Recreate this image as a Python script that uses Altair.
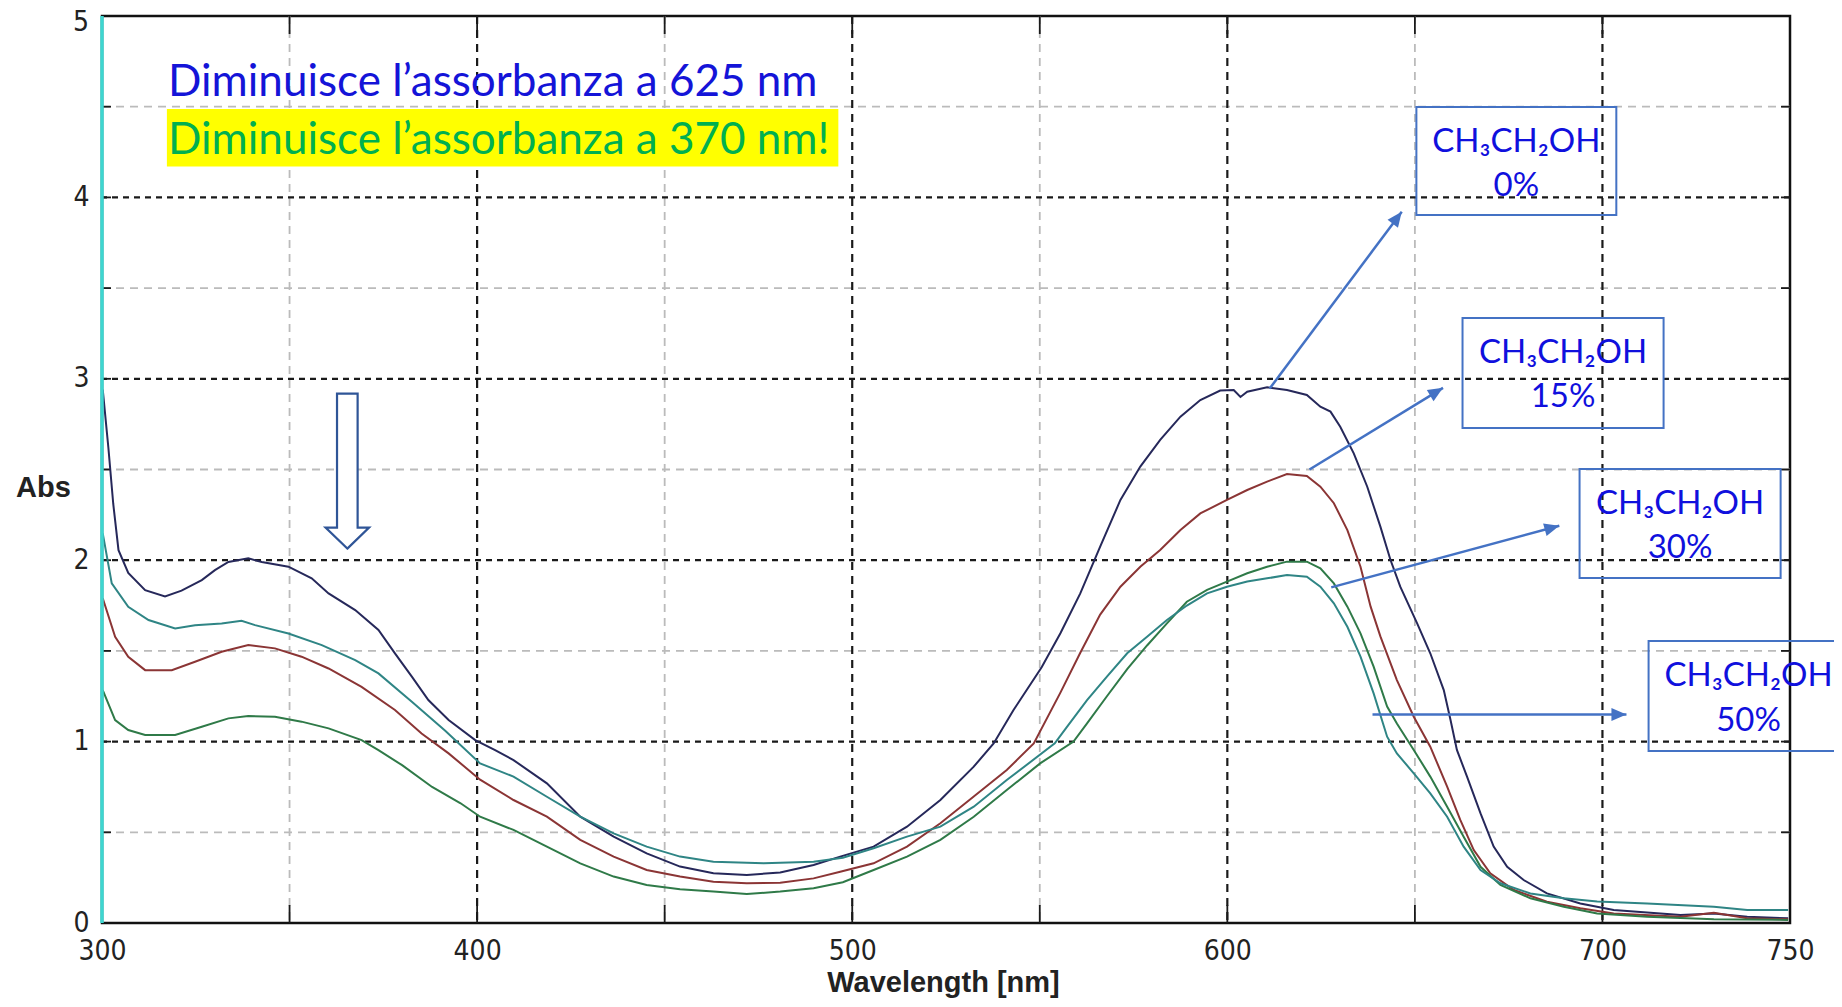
import altair as alt
import pandas as pd

# ---------------- data ----------------
wl_0 = [300.2, 301.7, 303.0, 304.4, 307.0, 311.5, 316.8, 321.2, 326.6, 330.1, 333.7, 339.0, 342.6, 349.7, 355.9,
        360.4, 367.5, 373.7, 378.1, 382.6, 387.0, 392.4, 399.5, 404.8, 409.7, 418.6, 427.5, 436.4, 445.2, 454.1,
        463.0, 471.9, 480.8, 489.7, 496.8, 505.7, 514.6, 523.5, 532.4, 537.7, 543.0, 550.5, 555.5, 560.8, 566.1,
        571.5, 576.8, 582.1, 587.5, 592.8, 598.1, 601.7, 603.5, 605.3, 610.6, 615.9, 621.2, 624.8, 627.5, 630.1,
        633.7, 637.3, 640.8, 643.5, 646.1, 650.6, 654.1, 657.7, 659.5, 661.2, 663.9, 667.5, 671.0, 674.6, 679.0,
        685.2, 694.1, 703.0, 720.8, 729.7, 738.6, 749.5]
abs_0 = [2.94, 2.62, 2.31, 2.055, 1.93, 1.835, 1.80, 1.832, 1.89, 1.945, 1.99, 2.01, 1.99, 1.964, 1.90,
         1.817, 1.725, 1.615, 1.486, 1.358, 1.229, 1.119, 1.008, 0.953, 0.898, 0.77, 0.586, 0.476, 0.384, 0.311,
         0.274, 0.265, 0.278, 0.32, 0.366, 0.421, 0.531, 0.678, 0.862, 0.99, 1.174, 1.41, 1.597, 1.817, 2.075,
         2.332, 2.516, 2.663, 2.791, 2.883, 2.935, 2.938, 2.900, 2.929, 2.953, 2.938, 2.911, 2.846, 2.819, 2.736,
         2.589, 2.405, 2.185, 2.001, 1.854, 1.652, 1.487, 1.284, 1.119, 0.954, 0.807, 0.604, 0.421, 0.31, 0.237,
         0.163, 0.108, 0.072, 0.044, 0.053, 0.035, 0.026]

wl_15 = [300.2, 303.5, 307.0, 311.5, 318.6, 324.8, 331.9, 339.0, 346.1, 353.2, 360.4, 369.2, 378.1, 385.2, 392.4,
         400.8, 409.7, 418.6, 427.5, 436.4, 445.2, 454.1, 463.0, 471.9, 480.8, 489.7, 496.8, 505.7, 514.6, 523.5,
         532.4, 541.2, 548.4, 555.5, 560.8, 566.1, 571.5, 576.8, 582.1, 587.5, 592.8, 599.9, 605.3, 610.6, 615.9,
         621.2, 624.8, 628.4, 632.0, 635.5, 638.2, 640.8, 645.2, 649.7, 654.1, 658.6, 662.1, 665.7, 670.1, 676.4,
         685.2, 694.1, 703.0, 720.8, 729.7, 738.6, 749.5]
abs_15 = [1.79, 1.578, 1.468, 1.394, 1.394, 1.44, 1.495, 1.532, 1.514, 1.468, 1.403, 1.302, 1.174, 1.045, 0.935,
          0.79, 0.678, 0.586, 0.458, 0.366, 0.292, 0.256, 0.228, 0.219, 0.222, 0.246, 0.283, 0.329, 0.421, 0.55,
          0.697, 0.843, 0.99, 1.27, 1.49, 1.70, 1.854, 1.964, 2.056, 2.166, 2.258, 2.332, 2.387, 2.433, 2.475,
          2.464, 2.405, 2.314, 2.166, 1.964, 1.744, 1.58, 1.339, 1.137, 0.972, 0.752, 0.568, 0.402, 0.274, 0.182,
          0.117, 0.081, 0.053, 0.035, 0.057, 0.026, 0.02]

wl_50 = [300.2, 302.6, 307.0, 312.4, 319.5, 324.8, 331.9, 337.2, 340.8, 349.7, 358.6, 367.5, 373.7, 382.6, 391.5,
         400.8, 409.7, 418.6, 427.5, 436.4, 445.2, 454.1, 463.0, 476.4, 489.7, 497.5, 505.7, 514.6, 523.5, 532.4,
         541.2, 554.0, 557.2, 562.6, 567.9, 573.3, 578.6, 583.9, 589.2, 594.6, 599.9, 605.3, 610.6, 615.9, 621.2,
         624.8, 628.4, 632.0, 635.5, 639.0, 642.6, 645.2, 649.7, 654.1, 658.6, 663.0, 667.5, 672.8, 680.8, 689.7,
         698.6, 711.9, 729.7, 738.6, 749.5]
abs_50 = [2.148, 1.872, 1.743, 1.67, 1.624, 1.642, 1.651, 1.666, 1.642, 1.596, 1.532, 1.449, 1.376, 1.22, 1.06,
          0.88, 0.807, 0.696, 0.586, 0.494, 0.421, 0.366, 0.338, 0.329, 0.338, 0.36, 0.412, 0.476, 0.531, 0.641,
          0.788, 0.99, 1.08, 1.229, 1.358, 1.487, 1.578, 1.67, 1.75, 1.817, 1.854, 1.882, 1.9, 1.918, 1.909,
          1.854, 1.762, 1.633, 1.468, 1.266, 1.027, 0.935, 0.825, 0.715, 0.586, 0.421, 0.292, 0.219, 0.163, 0.136,
          0.118, 0.108, 0.09, 0.072, 0.072]

wl_30 = [300.2, 303.5, 307.0, 311.5, 319.5, 326.6, 333.7, 339.0, 346.1, 353.2, 360.4, 369.2, 373.7, 380.0, 388.0,
         395.6, 400.8, 409.7, 418.6, 427.5, 436.4, 445.2, 454.1, 463.0, 471.9, 480.8, 489.7, 497.5, 505.7, 514.6,
         523.5, 532.4, 541.2, 550.1, 559.0, 562.6, 567.9, 573.3, 578.6, 583.9, 589.2, 594.6, 599.9, 605.3, 610.6,
         615.9, 621.2, 624.8, 628.4, 632.0, 635.5, 639.0, 642.6, 645.2, 649.7, 654.1, 658.6, 663.0, 667.5, 672.8,
         680.8, 689.7, 698.6, 711.9, 729.7, 749.5]
abs_30 = [1.284, 1.119, 1.064, 1.036, 1.036, 1.082, 1.128, 1.141, 1.137, 1.11, 1.073, 1.008, 0.953, 0.87, 0.75,
          0.66, 0.586, 0.513, 0.421, 0.329, 0.256, 0.21, 0.186, 0.173, 0.16, 0.173, 0.191, 0.225, 0.292, 0.366,
          0.458, 0.586, 0.733, 0.88, 1.0, 1.10, 1.25, 1.40, 1.53, 1.652, 1.771, 1.836, 1.882, 1.928, 1.964,
          1.992, 1.992, 1.955, 1.872, 1.744, 1.597, 1.413, 1.193, 1.10, 0.954, 0.807, 0.641, 0.476, 0.31, 0.21,
          0.136, 0.09, 0.053, 0.035, 0.02, 0.017]

series_names = ["0%", "15%", "30%", "50%"]
series_colors = ["#26285A", "#8B3535", "#2F7A48", "#2F8585"]

x_tick_labels = [300, 400, 500, 600, 700, 750]
y_tick_labels = [0, 1, 2, 3, 4]
y_top_label = ["5"]
major_x = [400, 500, 600, 700]
minor_x = [350, 450, 550, 650]
major_y = [1, 2, 3, 4]
minor_y = [0.5, 1.5, 2.5, 3.5, 4.5]
tick_x = [350, 400, 450, 500, 550, 600, 650, 700]
tick_y = [0.5, 1, 1.5, 2, 2.5, 3, 3.5, 4, 4.5]

line_texts = ["Diminuisce l\u2019assorbanza a 625 nm", "Diminuisce l\u2019assorbanza a 370 nm!"]
line_x = [317.6, 317.6]
line_y = [4.561, 4.239]
highlight = {"x": [317.3], "x2": [496.3], "y": [4.487], "y2": [4.17]}

box_pct = ["0%", "15%", "30%", "50%"]
box_x = [650.4, 662.7, 693.9, 712.3]
box_x2 = [703.7, 716.3, 747.5, 765.6]
box_y = [4.498, 3.335, 2.503, 1.555]
box_y2 = [3.903, 2.729, 1.902, 0.948]
box_base1 = [4.252, 3.089, 2.256, 1.308]
box_base2 = [4.005, 2.842, 2.010, 1.061]

arr_x = [611.3, 621.9, 627.7, 638.7]
arr_y = [2.947, 2.50, 1.85, 1.15]
arr_x2 = [646.5, 657.5, 688.5, 706.4]
arr_y2 = [3.921, 2.95, 2.19, 1.15]
arr_angle = [36.8, 58.9, 74.4, 90.0]

down_arrow_tip = {"x": [365.4], "y": [2.064]}

# ---------------- build ----------------
W, H = 1688, 907
TICK_FONT = "Liberation Sans Narrow, DejaVu Sans Condensed, Liberation Sans"
LBL_FONT = "Liberation Sans"
TXT_FONT = "Lato"
BLUE_TXT = "#1010DD"
BOX_BLUE = "#4472C4"
INK = "#222222"

rows = []
for name, wl, ab in zip(series_names, [wl_0, wl_15, wl_30, wl_50], [abs_0, abs_15, abs_30, abs_50]):
    for i, (w, a) in enumerate(zip(wl, ab)):
        rows.append({"series": name, "x": w, "y": a, "i": i})
curves = pd.DataFrame(rows)

xs = alt.Scale(domain=[300, 750], nice=False, zero=False)
ys = alt.Scale(domain=[0, 5], nice=False, zero=False)

x_axis = alt.Axis(values=x_tick_labels, title="Wavelength [nm]", grid=False, domain=False, ticks=False,
                  tickSize=0, labelFont=TICK_FONT, labelFontSize=28, labelColor=INK, labelPadding=28,
                  labelBaseline="middle", labelFlush=False, format="d",
                  titleFont=LBL_FONT, titleFontSize=29, titleFontWeight="bold", titleColor=INK,
                  titleX=841, titleY=59, titleAlign="center", titleBaseline="middle")
y_axis = alt.Axis(values=y_tick_labels, title="Abs", grid=False, domain=False, ticks=False, tickSize=0,
                  labelFont=TICK_FONT, labelFontSize=28, labelColor=INK, labelPadding=13,
                  labelFlush=False, format="d",
                  titleFont=LBL_FONT, titleFontSize=29, titleFontWeight="bold", titleColor=INK,
                  titleAngle=0, titleX=-59, titleY=471, titleAlign="center", titleBaseline="middle")

X = alt.X("x:Q", scale=xs, axis=x_axis)
Y = alt.Y("y:Q", scale=ys, axis=y_axis)

grid_minor_x = alt.Chart(pd.DataFrame({"x": minor_x})).mark_rule(
    color="#BBBBBB", strokeWidth=1.8, strokeDash=[8, 6]).encode(x=X)
grid_minor_y = alt.Chart(pd.DataFrame({"y": minor_y})).mark_rule(
    color="#BBBBBB", strokeWidth=1.8, strokeDash=[8, 6]).encode(y=Y)
grid_major_x = alt.Chart(pd.DataFrame({"x": major_x})).mark_rule(
    color="#1A1A1A", strokeWidth=2.2, strokeDash=[8, 6]).encode(x=X)
grid_major_y = alt.Chart(pd.DataFrame({"y": major_y})).mark_rule(
    color="#1A1A1A", strokeWidth=2.2, strokeDash=[6, 5]).encode(y=Y)

ticks_bottom = alt.Chart(pd.DataFrame({"x": tick_x})).mark_rule(color="#1A1A1A", strokeWidth=1.8).encode(
    x=X, y=alt.value(H), y2=alt.value(H - 18))
ticks_top = alt.Chart(pd.DataFrame({"x": tick_x})).mark_rule(color="#1A1A1A", strokeWidth=1.8).encode(
    x=X, y=alt.value(0), y2=alt.value(18))
ticks_left = alt.Chart(pd.DataFrame({"y": tick_y})).mark_rule(color="#1A1A1A", strokeWidth=1.8).encode(
    y=Y, x=alt.value(0), x2=alt.value(9))
ticks_right = alt.Chart(pd.DataFrame({"y": tick_y})).mark_rule(color="#1A1A1A", strokeWidth=1.8).encode(
    y=Y, x=alt.value(W), x2=alt.value(W - 9))

top_label = alt.Chart(pd.DataFrame({"x": [300], "y": [5], "t": y_top_label})).mark_text(
    font=TICK_FONT, fontSize=28, color=INK, align="right", baseline="middle", dx=-13, dy=7).encode(
    x=X, y=Y, text="t:N")

cyan_edge = alt.Chart(pd.DataFrame({"x": [300]})).mark_rule(color="#3ED6D0", strokeWidth=3.5).encode(x=X)

lines = alt.Chart(curves).mark_line(strokeWidth=2).encode(
    x=X, y=Y,
    color=alt.Color("series:N", scale=alt.Scale(domain=series_names, range=series_colors), legend=None),
    order="i:Q", detail="series:N")

hl = alt.Chart(pd.DataFrame(highlight)).mark_rect(color="#FFFF00").encode(
    x=X, x2="x2", y=Y, y2="y2")

txt1 = alt.Chart(pd.DataFrame({"x": line_x[:1], "y": line_y[:1], "t": line_texts[:1]})).mark_text(
    font=TXT_FONT, fontSize=44, color="#1414D8", align="left", baseline="alphabetic").encode(x=X, y=Y, text="t:N")
txt2 = alt.Chart(pd.DataFrame({"x": line_x[1:], "y": line_y[1:], "t": line_texts[1:]})).mark_text(
    font=TXT_FONT, fontSize=44, color="#00B050", align="left", baseline="alphabetic").encode(x=X, y=Y, text="t:N")

boxes_df = pd.DataFrame({"x": box_x, "x2": box_x2, "y": box_y, "y2": box_y2})
boxes = alt.Chart(boxes_df).mark_rect(fillOpacity=0, stroke=BOX_BLUE, strokeWidth=2).encode(
    x=X, x2="x2", y=Y, y2="y2")

box_cx = [(a + b) / 2 for a, b in zip(box_x, box_x2)]
formula = "CH\u2083CH\u2082OH"
bl1 = alt.Chart(pd.DataFrame({"x": box_cx, "y": box_base1, "t": [formula] * 4})).mark_text(
    font=TXT_FONT, fontSize=33, color=BLUE_TXT, align="center", baseline="alphabetic").encode(x=X, y=Y, text="t:N")
bl2 = alt.Chart(pd.DataFrame({"x": box_cx, "y": box_base2, "t": box_pct})).mark_text(
    font=TXT_FONT, fontSize=33, color=BLUE_TXT, align="center", baseline="alphabetic").encode(x=X, y=Y, text="t:N")

arr_df = pd.DataFrame({"x": arr_x, "y": arr_y, "x2": arr_x2, "y2": arr_y2, "angle": arr_angle})
arrows = alt.Chart(arr_df).mark_rule(color=BOX_BLUE, strokeWidth=2.5).encode(x=X, y=Y, x2="x2", y2="y2")
HEAD = "M0,0L0.65,1.5L-0.65,1.5Z"
heads = alt.Chart(arr_df).mark_point(shape=HEAD, size=400, filled=True, color=BOX_BLUE, opacity=1).encode(
    x=alt.X("x2:Q", scale=xs, axis=x_axis), y=alt.Y("y2:Q", scale=ys, axis=y_axis),
    angle=alt.Angle("angle:Q", scale=None))

DOWN = "M0,0L2.175,-2.1L1.03,-2.1L1.03,-15.5L-1.03,-15.5L-1.03,-2.1L-2.175,-2.1Z"
down = alt.Chart(pd.DataFrame(down_arrow_tip)).mark_point(
    shape=DOWN, size=400, filled=True, fill="#FFFFFF", stroke="#2F5597", strokeWidth=2.2, opacity=1).encode(
    x=X, y=Y)

chart = alt.layer(
    grid_minor_x, grid_minor_y, grid_major_x, grid_major_y,
    ticks_bottom, ticks_top, ticks_left, ticks_right, top_label,
    lines, cyan_edge,
    hl, txt1, txt2, boxes, bl1, bl2, arrows, heads, down
).properties(
    width=W, height=H,
    autosize=alt.AutoSizeParams(type="none"),
    padding={"left": 94, "top": 8, "right": 44, "bottom": 76},
    background="white"
).configure_view(stroke="#111111", strokeWidth=2.5)

chart.save("out.html", embed_options={"renderer": "svg", "actions": False})
